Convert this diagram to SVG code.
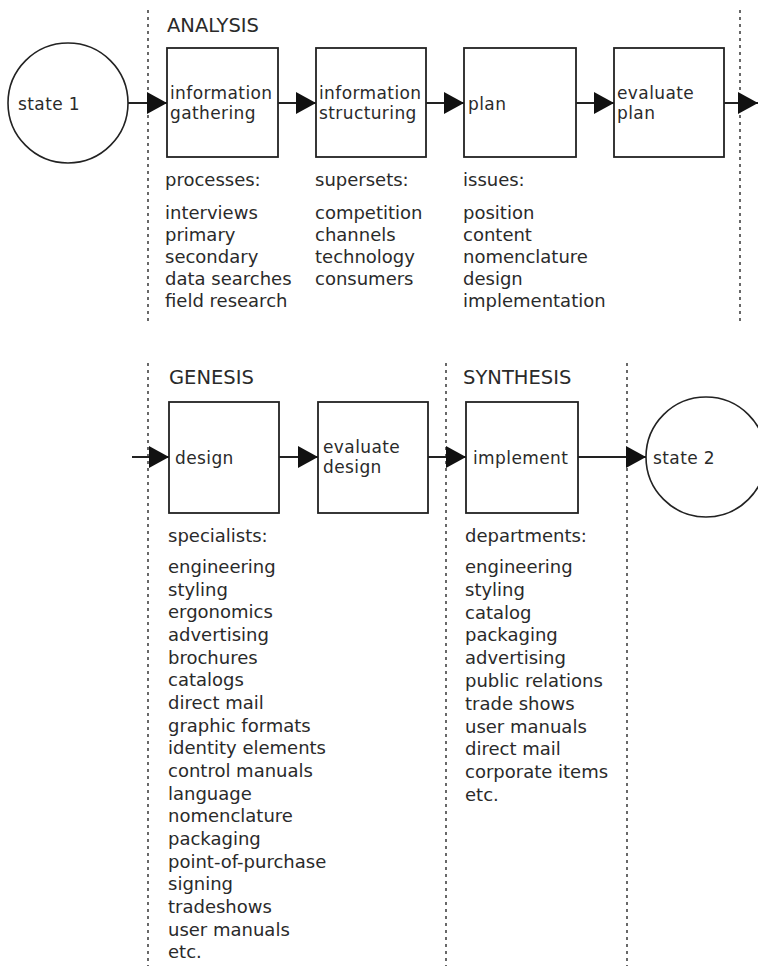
<svg xmlns="http://www.w3.org/2000/svg" width="758" height="966" viewBox="0 0 758 966">
<style>
text{font-family:"DejaVu Sans","Liberation Sans",sans-serif;font-size:18px;fill:#2a2a2a}
.hd{font-size:19.5px}
.bt{font-size:17px;letter-spacing:0.4px}
.box{fill:#fff;stroke:#222;stroke-width:1.8}
.circ{fill:#fff;stroke:#222;stroke-width:1.6}
.div{stroke:#444;stroke-width:1.6;stroke-dasharray:3 4;fill:none}
.con{stroke:#222;stroke-width:1.8;fill:none;marker-end:url(#ah)}
</style>
<defs>
<marker id="ah" markerUnits="userSpaceOnUse" markerWidth="20" markerHeight="22" refX="20" refY="11" orient="auto" viewBox="0 0 20 22">
<path d="M0,0 L20,11 L0,22 z" fill="#111"/>
</marker>
</defs>
<rect width="758" height="966" fill="#fff"/>
<g id="dividers">
<line class="div" x1="148" y1="10" x2="148" y2="322"/>
<line class="div" x1="740" y1="10" x2="740" y2="322"/>
<line class="div" x1="148" y1="363" x2="148" y2="966"/>
<line class="div" x1="446" y1="363" x2="446" y2="966"/>
<line class="div" x1="627" y1="363" x2="627" y2="966"/>
</g>
<g id="headings">
<text class="hd" x="167" y="32">ANALYSIS</text>
<text class="hd" x="169" y="384">GENESIS</text>
<text class="hd" x="463" y="384">SYNTHESIS</text>
</g>
<g id="state1"><circle class="circ" cx="68" cy="103" r="60"/><text class="bt" x="18" y="110">state 1</text></g>
<g id="info-gathering"><rect class="box" x="167" y="48" width="111" height="109"/><text class="bt" x="170" y="99">information</text><text class="bt" x="170" y="119">gathering</text></g>
<g id="info-structuring"><rect class="box" x="316" y="48" width="110" height="109"/><text class="bt" x="319" y="99">information</text><text class="bt" x="319" y="119">structuring</text></g>
<g id="plan"><rect class="box" x="464" y="48" width="112" height="109"/><text class="bt" x="468" y="110">plan</text></g>
<g id="evaluate-plan"><rect class="box" x="614" y="48" width="110" height="109"/><text class="bt" x="617" y="99">evaluate</text><text class="bt" x="617" y="119">plan</text></g>
<g id="design"><rect class="box" x="169" y="402" width="110" height="111"/><text class="bt" x="175" y="464">design</text></g>
<g id="evaluate-design"><rect class="box" x="318" y="402" width="110" height="111"/><text class="bt" x="323" y="453">evaluate</text><text class="bt" x="323" y="473">design</text></g>
<g id="implement"><rect class="box" x="466" y="402" width="112" height="111"/><text class="bt" x="473" y="464">implement</text></g>
<g id="state2"><circle class="circ" cx="706" cy="457" r="60"/><text class="bt" x="653" y="464">state 2</text></g>
<g id="connectors">
<line class="con" x1="128" y1="103" x2="167" y2="103"/>
<line class="con" x1="278" y1="103" x2="316" y2="103"/>
<line class="con" x1="426" y1="103" x2="464" y2="103"/>
<line class="con" x1="576" y1="103" x2="614" y2="103"/>
<line class="con" x1="724" y1="103" x2="758" y2="103"/>
<line class="con" x1="132" y1="457" x2="169" y2="457"/>
<line class="con" x1="279" y1="457" x2="318" y2="457"/>
<line class="con" x1="428" y1="457" x2="466" y2="457"/>
<line class="con" x1="578" y1="457" x2="646" y2="457"/>
</g>
<g id="processes-list">
<text x="165" y="186">processes:</text>
<text x="165" y="219">interviews</text>
<text x="165" y="241">primary</text>
<text x="165" y="263">secondary</text>
<text x="165" y="285">data searches</text>
<text x="165" y="307">field research</text>
</g>
<g id="supersets-list">
<text x="315" y="186">supersets:</text>
<text x="315" y="219">competition</text>
<text x="315" y="241">channels</text>
<text x="315" y="263">technology</text>
<text x="315" y="285">consumers</text>
</g>
<g id="issues-list">
<text x="463" y="186">issues:</text>
<text x="463" y="219">position</text>
<text x="463" y="241">content</text>
<text x="463" y="263">nomenclature</text>
<text x="463" y="285">design</text>
<text x="463" y="307">implementation</text>
</g>
<g id="specialists-list">
<text x="168" y="542">specialists:</text>
<text x="168" y="573">engineering</text>
<text x="168" y="595.6">styling</text>
<text x="168" y="618.3">ergonomics</text>
<text x="168" y="641">advertising</text>
<text x="168" y="663.6">brochures</text>
<text x="168" y="686.3">catalogs</text>
<text x="168" y="709">direct mail</text>
<text x="168" y="731.6">graphic formats</text>
<text x="168" y="754.3">identity elements</text>
<text x="168" y="777">control manuals</text>
<text x="168" y="799.6">language</text>
<text x="168" y="822.3">nomenclature</text>
<text x="168" y="845">packaging</text>
<text x="168" y="867.6">point-of-purchase</text>
<text x="168" y="890.3">signing</text>
<text x="168" y="913">tradeshows</text>
<text x="168" y="935.6">user manuals</text>
<text x="168" y="958.3">etc.</text>
</g>
<g id="departments-list">
<text x="465" y="542">departments:</text>
<text x="465" y="573">engineering</text>
<text x="465" y="595.8">styling</text>
<text x="465" y="618.6">catalog</text>
<text x="465" y="641.4">packaging</text>
<text x="465" y="664.2">advertising</text>
<text x="465" y="687">public relations</text>
<text x="465" y="709.8">trade shows</text>
<text x="465" y="732.6">user manuals</text>
<text x="465" y="755.4">direct mail</text>
<text x="465" y="778.2">corporate items</text>
<text x="465" y="801">etc.</text>
</g>
</svg>
